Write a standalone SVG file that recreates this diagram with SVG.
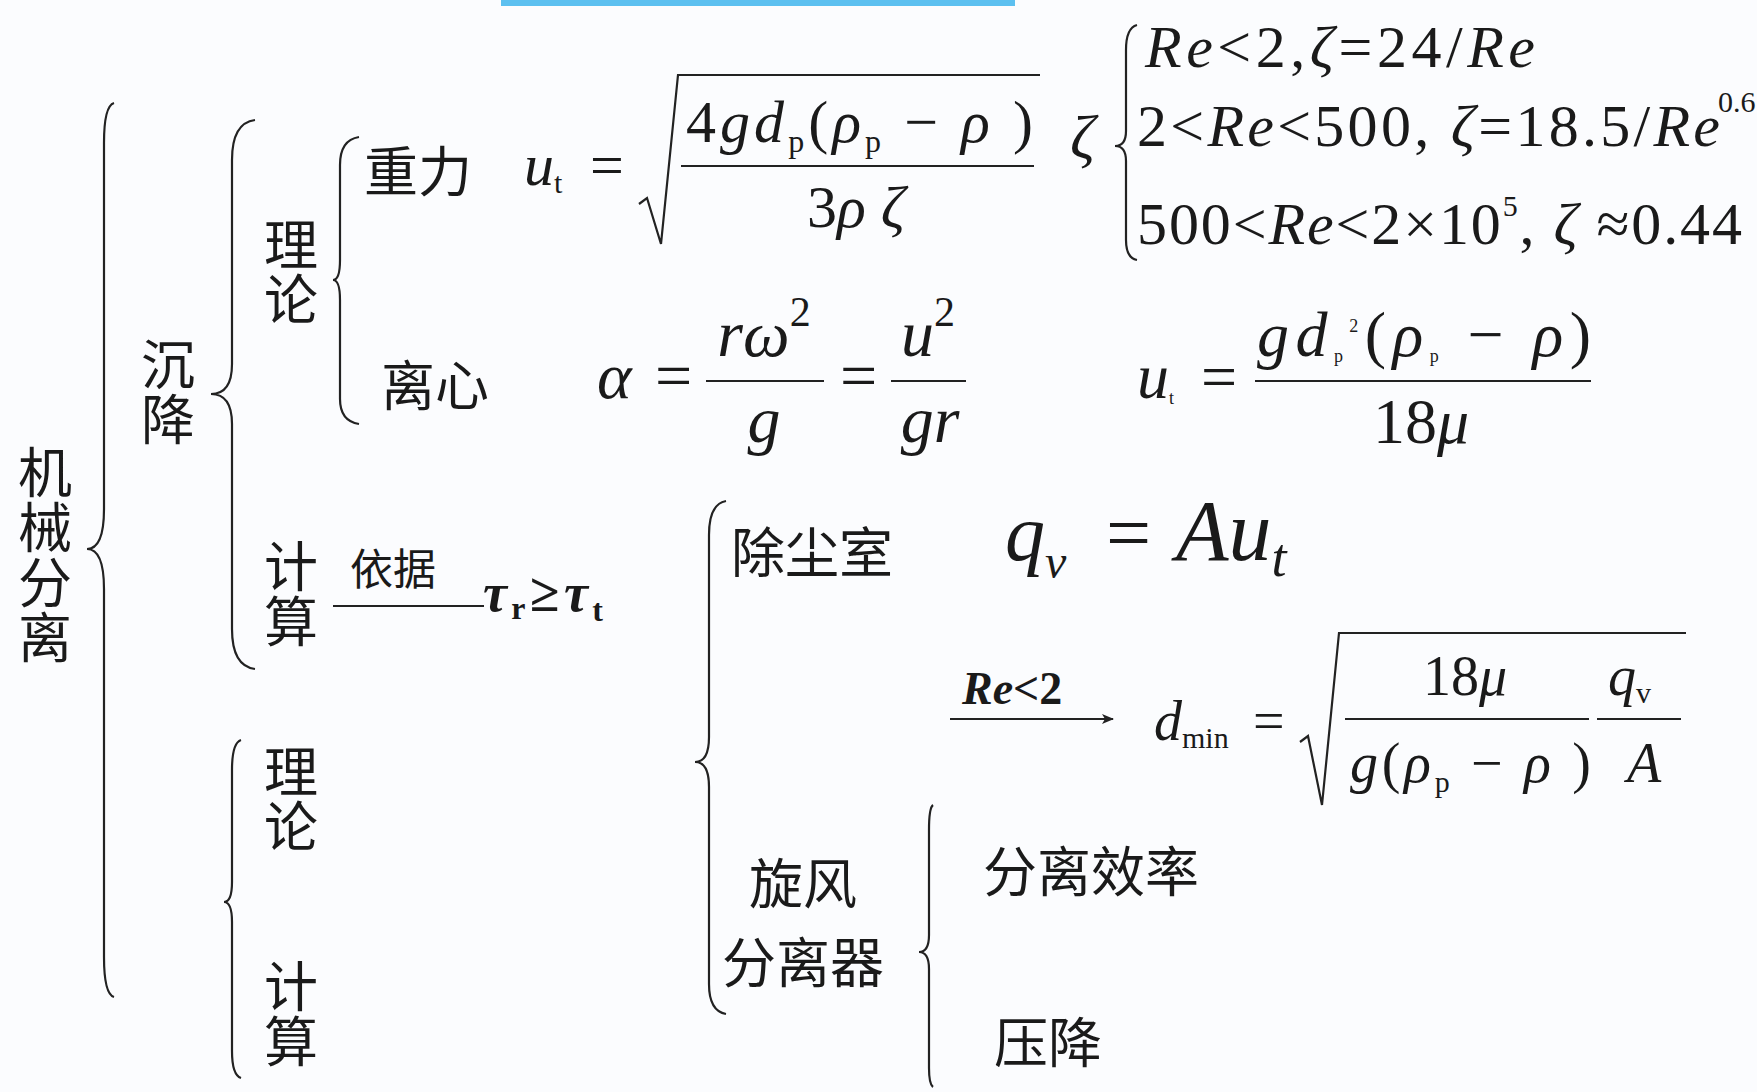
<svg xmlns="http://www.w3.org/2000/svg" width="1757" height="1092" viewBox="0 0 1757 1092">
<style>
.cn{font-family:"Noto Sans CJK SC",sans-serif;font-size:54px;fill:#1a1a1a}
.vt{font-family:"Noto Sans CJK SC",sans-serif;font-size:54px;fill:#1a1a1a;writing-mode:vertical-rl;letter-spacing:1px}
.cs{font-family:"Noto Sans CJK SC",sans-serif;font-size:43px;fill:#1a1a1a}
.m{font-family:"Liberation Serif","Times New Roman",Times,serif;font-style:italic;fill:#1a1a1a}
.u{font-style:normal}
.br{fill:none;stroke:#222;stroke-width:2.2}
.ln{fill:none;stroke:#222;stroke-width:2.2}
</style>
<defs>
<marker id="ah" markerWidth="12" markerHeight="10" refX="11" refY="5" orient="auto" markerUnits="userSpaceOnUse">
<path d="M0,0 L12,5 L0,10 L3,5 Z" fill="#222"/>
</marker>
</defs>
<rect width="1757" height="1092" fill="#fbfcfe"/>
<rect x="501" y="0" width="514" height="6" fill="#5cc0f0"/>

<g id="connectors">
<path class="br" d="M114,103 Q104,106 104,143 L104,509 Q104,549 87,549 Q104,549 104,589 L104,957 Q104,994 114,997"/>
<path class="br" d="M255,120 Q232,123 232,160 L232,364 Q232,394 211,394 Q232,394 232,424 L232,629 Q232,666 255,669"/>
<path class="br" d="M359,137 Q340,140 340,165 L340,260 Q340,280 333,280 Q340,280 340,300 L340,399 Q340,421 359,424"/>
<path class="br" d="M241,740 Q232,743 232,770 L232,882 Q232,902 224,902 Q232,902 232,922 L232,1051 Q232,1075 241,1078"/>
<path class="br" d="M726,501 Q709,504 709,535 L709,737 Q709,762 695,762 Q709,762 709,787 L709,984 Q709,1011 726,1014"/>
<path class="br" d="M933,805 Q929,808 929,830 L929,935 Q929,952 919,952 Q929,952 929,969 L929,1068 Q929,1084 933,1087"/>
<path class="br" d="M1137,25 Q1126,28 1126,50 L1126,131 Q1126,146 1115,146 Q1126,146 1126,161 L1126,240 Q1126,258 1137,260"/>
<line class="ln" x1="333" y1="606" x2="484" y2="606"/>
<line class="ln" x1="950" y1="719" x2="1113" y2="719" marker-end="url(#ah)"/>
</g>

<g id="n-jixiefenli">
<text class="vt" x="45" y="445">机械分离</text>
</g>
<g id="n-chenjiang">
<text class="vt" x="168" y="337">沉降</text>
</g>
<g id="n-lilun1">
<text class="vt" x="291" y="217">理论</text>
</g>
<g id="n-jisuan1">
<text class="vt" x="291" y="539">计算</text>
</g>
<g id="n-lilun2">
<text class="vt" x="291" y="744">理论</text>
</g>
<g id="n-jisuan2">
<text class="vt" x="291" y="959">计算</text>
</g>
<g id="n-zhongli">
<text class="cn" x="364" y="168" dominant-baseline="central">重力</text>
</g>
<g id="n-lixin">
<text class="cn" x="381" y="382" dominant-baseline="central">离心</text>
</g>
<g id="n-yiju">
<text class="cs" x="350" y="566" dominant-baseline="central">依据</text>
</g>
<g id="n-tau">
<text class="m" x="483" y="611" font-size="54" font-weight="bold" textLength="120">τ<tspan class="u" font-size="32" dy="8">r</tspan><tspan class="u" dy="-8">≥</tspan>τ<tspan class="u" font-size="32" dy="10">t</tspan></text>
</g>

<g id="n-gravity-formula">
<text class="m" x="524" y="185" font-size="60">u<tspan class="u" font-size="30" dy="8">t</tspan><tspan class="u" x="590" dy="-8">=</tspan></text>
<path class="ln" d="M639,204 L647,198 L661,244 L678,75 L1040,75"/>
<text class="m" x="686" y="142" font-size="60" textLength="347"><tspan class="u">4</tspan>gd<tspan class="u" font-size="32" dy="10">p</tspan><tspan class="u" dy="-10">(</tspan>ρ<tspan class="u" font-size="32" dy="10">p</tspan><tspan class="u" dy="-10"> − </tspan>ρ<tspan class="u"> )</tspan></text>
<line class="ln" x1="681" y1="166" x2="1034" y2="166"/>
<text class="m" x="856" y="227" font-size="60" text-anchor="middle"><tspan class="u">3</tspan>ρ ζ</text>
</g>

<g id="n-zeta-cases">
<text class="m" x="1070" y="158" font-size="62">ζ</text>
<text class="m" x="1145" y="67" font-size="60" textLength="390">Re<tspan class="u">&lt;2,</tspan>ζ<tspan class="u">=24/</tspan>Re</text>
<text class="m" x="1137" y="146" font-size="60" textLength="583"><tspan class="u">2&lt;</tspan>Re<tspan class="u">&lt;500,   </tspan>ζ<tspan class="u">=18.5/</tspan>Re</text>
<text class="m u" x="1718" y="112" font-size="30" font-style="normal">0.6</text>
<text class="m" x="1137" y="244" font-size="60" textLength="605"><tspan class="u">500&lt;</tspan>Re<tspan class="u">&lt;2×10</tspan><tspan class="u" font-size="30" dy="-28">5</tspan><tspan class="u" dy="28">,   </tspan>ζ<tspan class="u"> ≈0.44</tspan></text>
</g>

<g id="n-centrifugal-formula">
<text class="m" x="597" y="398" font-size="66">α<tspan class="u" x="655">=</tspan></text>
<text class="m" x="764" y="356" font-size="66" text-anchor="middle">rω<tspan class="u" font-size="42" dy="-30">2</tspan></text>
<line class="ln" x1="706" y1="381" x2="824" y2="381"/>
<text class="m" x="764" y="442" font-size="66" text-anchor="middle">g</text>
<text class="m u" x="840" y="398" font-size="66" font-style="normal">=</text>
<text class="m" x="928" y="356" font-size="66" text-anchor="middle">u<tspan class="u" font-size="42" dy="-30">2</tspan></text>
<line class="ln" x1="891" y1="381" x2="966" y2="381"/>
<text class="m" x="930" y="442" font-size="66" text-anchor="middle">gr</text>
</g>

<g id="n-stokes-formula">
<text class="m" x="1137" y="398" font-size="64">u<tspan class="u" font-size="18" dy="6">t</tspan><tspan class="u" x="1201" dy="-6">=</tspan></text>
<text class="m" x="1257" y="356" font-size="64" textLength="334">gd<tspan class="u" font-size="18" dy="6">p</tspan><tspan class="u" font-size="18" dy="-30">2</tspan><tspan class="u" dy="24">(</tspan>ρ<tspan class="u" font-size="18" dy="6">p</tspan><tspan class="u" dy="-6"> − </tspan>ρ<tspan class="u">)</tspan></text>
<line class="ln" x1="1255" y1="381" x2="1591" y2="381"/>
<text class="m" x="1421" y="443" font-size="64" text-anchor="middle"><tspan class="u">18</tspan>μ</text>
</g>

<g id="n-chuchenshi">
<text class="cn" x="731" y="549" dominant-baseline="central">除尘室</text>
</g>
<g id="n-qv-formula">
<text class="m" x="1005" y="560" font-size="80">q<tspan font-size="48" dy="18">v</tspan></text>
<text class="m u" x="1106" y="560" font-size="80" font-style="normal">=</text>
<text class="m" x="1176" y="560" font-size="86">Au<tspan font-size="54" dy="16">t</tspan></text>
</g>
<g id="n-re2">
<text class="m" x="962" y="704" font-size="46" font-weight="bold">Re<tspan class="u">&lt;2</tspan></text>
</g>
<g id="n-dmin-formula">
<text class="m" x="1154" y="740" font-size="56">d<tspan class="u" font-size="30" dy="8">min</tspan><tspan class="u" x="1253" dy="-8">=</tspan></text>
<path class="ln" d="M1300,742 L1308,736 L1322,805 L1339,633 L1686,633"/>
<text class="m" x="1465" y="695" font-size="56" text-anchor="middle"><tspan class="u">18</tspan>μ</text>
<line class="ln" x1="1345" y1="719" x2="1589" y2="719"/>
<text class="m" x="1350" y="782" font-size="56" textLength="241">g<tspan class="u">(</tspan>ρ<tspan class="u" font-size="30" dy="10">p</tspan><tspan class="u" dy="-10"> − </tspan>ρ<tspan class="u"> )</tspan></text>
<text class="m" x="1608" y="695" font-size="56">q<tspan class="u" font-size="30" dy="8">v</tspan></text>
<line class="ln" x1="1597" y1="719" x2="1681" y2="719"/>
<text class="m" x="1644" y="782" font-size="56" text-anchor="middle">A</text>
</g>

<g id="n-xuanfeng">
<text class="cn" x="803" y="880" text-anchor="middle" dominant-baseline="central">旋风</text>
<text class="cn" x="803" y="959" text-anchor="middle" dominant-baseline="central">分离器</text>
</g>
<g id="n-xiaolv">
<text class="cn" x="983" y="868" dominant-baseline="central">分离效率</text>
</g>
<g id="n-yajiang">
<text class="cn" x="994" y="1039" dominant-baseline="central">压降</text>
</g>
</svg>
